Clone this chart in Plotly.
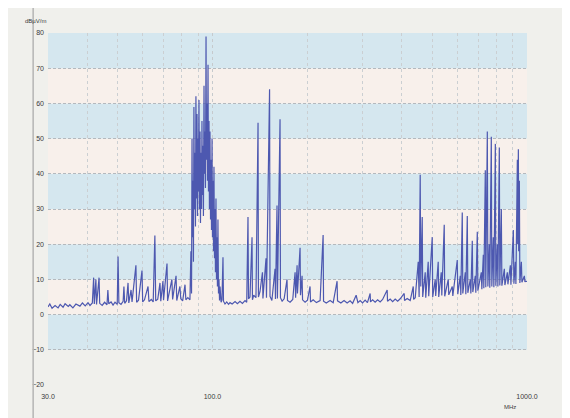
import plotly.graph_objects as go

# Spectrum trace (frequency in MHz, level in dBuV/m)
freq_mhz = [
    30.0, 30.4, 30.9, 31.6, 32.3, 32.8, 33.5, 34.0, 34.8, 35.2, 36.0, 36.8, 37.9, 38.6, 39.4, 40.2, 40.8, 41.5,
    41.9, 42.1, 42.6, 42.8, 43.6, 43.8, 44.6, 45.4, 46.2, 46.5, 46.8, 47.6, 48.3, 49.0, 49.8,
    50.1, 50.4, 51.2, 52.0, 52.3, 52.6, 53.3, 53.9, 54.2, 55.1, 55.5, 57.1, 57.4, 58.2, 59.7, 60.0, 60.8,
    62.4, 62.8, 63.9, 64.8, 65.6, 66.0, 67.0, 68.1, 68.5, 69.6, 69.9, 71.7, 72.0, 74.3, 74.7, 76.6, 77.0,
    78.8, 79.3, 80.4, 81.8, 82.3, 83.5, 84.8,
    85.4, 85.8, 86.1, 86.4, 86.7, 87.0, 87.3, 87.6, 88.0, 88.3, 88.6, 88.9, 89.3, 89.6, 89.9, 90.2, 90.6,
    90.9, 91.3, 91.6, 91.9, 92.3, 92.6, 92.9, 93.3, 93.6, 94.0, 94.3, 94.7, 95.0, 95.4, 95.7, 96.1, 96.4,
    96.8, 97.1, 97.5, 97.8, 98.2, 98.6, 98.9, 99.3, 99.7, 100.0, 100.4, 100.8, 101.1, 101.5, 101.9, 102.2,
    102.6, 103.0, 103.4, 103.7, 104.1, 104.5, 104.9, 105.3, 105.7, 106.5, 107.2,
    108.0, 108.4, 109.6, 111.0, 112.5, 113.7, 115.5, 118.0, 120.0, 122.3, 124.5, 126.9, 128.5,
    129.7, 130.2, 131.6, 133.6, 134.0, 135.2, 137.5, 139.6, 140.0, 141.6, 144.2, 144.7, 148.0, 148.5,
    151.9, 152.4, 154.5, 158.1, 158.6, 160.4, 160.9, 164.0, 164.5, 166.5, 169.0, 172.6, 173.2, 176.5,
    180.0, 183.1, 183.8, 185.8, 186.3, 189.9, 190.5, 192.7, 193.4, 197.0, 200.5, 204.3, 205.0, 209.0,
    214.0, 219.9, 224.8, 225.5, 230.0, 236.6, 242.0, 249.0, 249.8, 256.0, 262.0, 268.0, 273.9, 279.0,
    286.3, 290.0, 294.8, 300.0, 305.8, 311.0, 317.2, 318.0, 323.0, 329.0, 335.0, 341.3, 347.5, 359.3,
    360.2, 367.3, 374.0, 381.0, 388.0, 395.2, 407.0, 408.0, 416.0, 425.3, 434.9, 436.0, 441.2,
    451.0, 454.0, 457.6, 459.5, 464.4, 466.0, 474.7, 476.5, 485.2, 487.0, 499.7, 501.5, 510.8, 512.5,
    522.1, 524.0, 533.8, 536.0, 545.6, 547.5, 561.9, 564.0, 578.6, 581.0, 600.2, 602.5, 613.6, 616.0,
    622.6, 625.0, 636.5, 639.0, 645.9, 648.5, 660.3, 663.0, 670.0, 672.5, 684.9, 687.5, 695.0, 698.0,
    715.7, 718.5, 726.3, 729.0, 737.0, 739.5, 747.9, 751.0, 758.9, 761.5, 770.1, 773.0, 781.5, 784.5,
    793.1, 796.0, 804.8, 808.0, 816.6, 819.5, 828.7, 832.0, 847.2, 850.5, 866.0, 869.5, 885.3, 889.0,
    904.9, 908.5, 918.3, 922.0, 931.8, 934.0, 938.7, 941.0, 945.6, 949.0, 959.6, 963.5, 980.9, 985.0,
    992.0, 1000.0,
]
level_dbuv = [
    2.2, 3.0, 1.8, 2.6, 1.9, 2.9, 2.1, 3.1, 2.3, 2.8, 1.9, 3.0, 2.4, 3.3, 2.5, 3.4, 2.6, 3.3,
    10.5, 3.0, 10.0, 2.9, 10.5, 3.2, 2.6, 3.5, 2.8, 7.0, 3.1, 3.6, 2.7, 3.5, 2.9,
    16.5, 3.4, 2.9, 3.8, 8.0, 3.2, 3.9, 9.0, 3.3, 7.0, 3.6, 14.0, 3.5, 4.1, 12.5, 3.6, 4.2,
    8.0, 3.7, 4.3, 3.6, 22.5, 3.9, 4.4, 9.0, 3.8, 9.5, 4.1, 14.5, 3.9, 10.0, 4.3, 11.0, 4.0,
    8.0, 4.5, 3.9, 8.5, 4.2, 4.8, 4.2,
    18, 6, 50, 22, 38, 15, 59, 30, 46, 25, 62, 33, 57, 28, 50, 35, 61,
    30, 52, 26, 46, 30, 55, 34, 48, 28, 65, 40, 52, 36, 79, 44, 60, 38,
    71, 35, 55, 30, 52, 27, 44, 24, 50, 22, 38, 18, 42, 16, 30, 12,
    33, 10, 22, 8, 27, 6, 10, 4, 8, 3.5, 4.2,
    16.3, 3.8, 3.0, 3.6, 2.9, 3.4, 3.0, 3.7, 3.1, 3.8, 3.2, 4.0, 3.5,
    27.7, 4.5, 5.0, 22.0, 4.2, 5.5, 4.8, 54.5, 5.0, 6.5, 12.0, 4.6, 16.0, 4.8,
    64.0, 5.2, 4.0, 13.0, 4.4, 31.0, 4.6, 55.5, 4.8, 3.8, 4.5, 10.0, 4.0, 3.5,
    4.3, 12.0, 4.8, 14.0, 6.0, 19.0, 5.5, 11.0, 4.2, 3.5, 4.1, 8.0, 3.6, 4.2,
    3.4, 4.0, 22.6, 3.8, 3.3, 4.0, 3.4, 9.5, 3.9, 3.3, 4.0, 3.3, 3.9, 3.2,
    5.5, 3.4, 4.0, 3.3, 4.1, 3.4, 6.0, 3.6, 4.2, 3.5, 4.2, 3.6, 4.3, 7.0,
    3.8, 4.4, 3.7, 4.4, 3.8, 4.5, 6.0, 4.0, 4.6, 4.0, 8.0, 4.3, 4.8,
    15.0, 5.0, 39.7, 8.0, 27.7, 5.0, 12.0, 4.8, 15.0, 5.2, 22.0, 5.0, 10.0, 5.3,
    15.0, 5.0, 12.0, 5.4, 25.5, 5.2, 10.0, 5.6, 8.0, 5.3, 15.5, 5.8, 11.0, 5.6,
    29.0, 6.0, 12.0, 5.8, 28.0, 6.2, 10.0, 6.0, 21.0, 6.4, 11.0, 6.2, 23.5, 6.8,
    12.0, 7.2, 17.0, 7.5, 41.0, 7.8, 52.0, 8.0, 20.0, 7.6, 50.5, 8.0, 22.0, 7.8,
    48.5, 8.2, 20.0, 8.0, 47.5, 8.3, 30.0, 8.2, 13.0, 8.4, 12.0, 8.6, 14.0, 8.5,
    24.0, 8.8, 15.0, 8.7, 44.0, 20.0, 47.0, 18.0, 38.0, 9.0, 15.0, 9.2, 11.0, 9.3,
    9.5, 9.4,
]

y_ticks = [-20, -10, 0, 10, 20, 30, 40, 50, 60, 70, 80]
x_major = [30, 100, 1000]
x_major_text = ["30.0", "100.0", "1000.0"]
x_minor = [40, 50, 60, 70, 80, 90, 200, 300, 400, 500, 600, 700, 800, 900]

BLUE_BAND = "#d5e7ef"
CREAM_BAND = "#f8f0eb"
PAPER = "#f0f0ec"

fig = go.Figure()
fig.add_trace(go.Scatter(
    x=freq_mhz, y=level_dbuv, mode="lines",
    line=dict(color="#4d58b0", width=1.2),
    hoverinfo="x+y", showlegend=False,
))

# alternating horizontal bands between -10 and 80
shapes = []
band_edges = y_ticks[1:]
for i in range(len(band_edges) - 1):
    lo, hi = band_edges[i], band_edges[i + 1]
    color = BLUE_BAND if i % 2 == 0 else CREAM_BAND
    shapes.append(dict(type="rect", xref="paper", yref="y", x0=0, x1=1, y0=lo, y1=hi,
                       fillcolor=color, line=dict(width=0), layer="below"))
# plain strip below the banded area (hides the vertical grid there)
shapes.append(dict(type="rect", xref="paper", yref="y", x0=-0.002, x1=1.002,
                   y0=y_ticks[0] + 0.3, y1=y_ticks[1] - 0.3,
                   fillcolor=PAPER, line=dict(width=0), layer="above"))
# scan frame lines
shapes.append(dict(type="line", xref="paper", yref="paper", x0=-0.031, x1=-0.031, y0=-0.15, y1=1.1,
                   line=dict(color="#b5b5b5", width=1.5)))
shapes.append(dict(type="line", xref="paper", yref="paper", x0=1.083, x1=1.083, y0=-0.15, y1=1.1,
                   line=dict(color="#d8d8d8", width=1.5)))
fig.update_layout(shapes=shapes)

font_family = "Liberation Sans, Arial, sans-serif"
fig.update_layout(
    width=562, height=410,
    margin=dict(l=40, r=43, t=25, b=33),
    paper_bgcolor=PAPER, plot_bgcolor=PAPER,
    font=dict(family=font_family, size=7, color="#3a3a3a"),
    xaxis=dict(
        type="log", range=[1.4771213, 3.0],
        tickvals=x_major, ticktext=x_major_text,
        showgrid=True, gridcolor="#c6cacd", griddash="3px,3px", gridwidth=1,
        minor=dict(tickvals=x_minor, showgrid=True, gridcolor="#cbcfd2", griddash="3px,3px", gridwidth=1),
        zeroline=False, showline=False, ticks="", ticklen=0,
        ticklabelstandoff=6,
        tickfont=dict(size=7, color="#3a3a3a"),
    ),
    yaxis=dict(
        range=[-20, 80], tickvals=y_ticks,
        showgrid=True, gridcolor="#b4b9be", griddash="3px,2px", gridwidth=1,
        zeroline=False, showline=False, ticks="",
        ticklabelstandoff=3,
        tickfont=dict(size=7, color="#3a3a3a"),
    ),
    annotations=[
        dict(text="dBµV/m", xref="paper", yref="paper", x=0.0, y=1.035, xanchor="right",
             yanchor="middle", showarrow=False, font=dict(size=6, color="#3a3a3a")),
        dict(text="MHz", xref="paper", yref="paper", x=0.965, y=-0.062, xanchor="center",
             yanchor="middle", showarrow=False, font=dict(size=6, color="#3a3a3a")),
    ],
)

fig.write_html("out.html")
